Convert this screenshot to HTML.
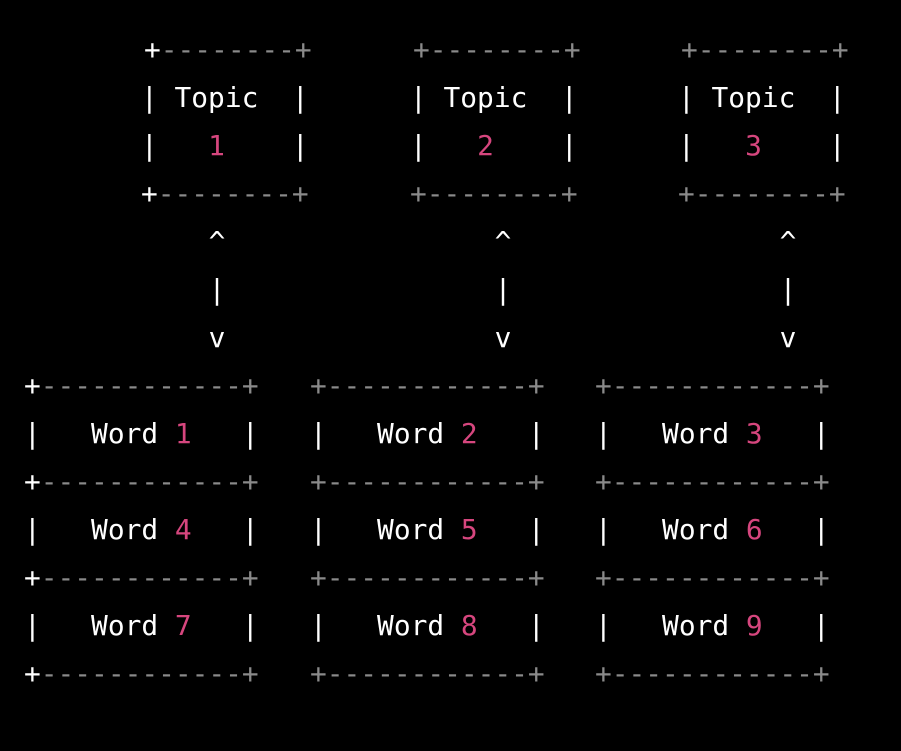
<!DOCTYPE html>
<html><head><style>
html,body{margin:0;padding:0;background:#000;width:901px;height:751px;overflow:hidden}
.l{position:absolute;font-family:"DejaVu Sans Mono","Liberation Mono",monospace;font-size:27.85px;line-height:48px;height:48px;white-space:pre;color:#fff}
.g{color:#8a8a8a}.p{color:#d6467e}
</style></head><body>
<!-- Topic 1 -->
<div class="l" style="left:144px;top:26px">+<span class="g">--------+</span></div>
<div class="l" style="left:141px;top:74px">| Topic  |</div>
<div class="l" style="left:141px;top:122px">|   <span class="p">1</span>    |</div>
<div class="l" style="left:141px;top:170px">+<span class="g">--------+</span></div>
<!-- Topic 2 -->
<div class="l g" style="left:413px;top:26px">+--------+</div>
<div class="l" style="left:410px;top:74px">| Topic  |</div>
<div class="l" style="left:410px;top:122px">|   <span class="p">2</span>    |</div>
<div class="l g" style="left:410px;top:170px">+--------+</div>
<!-- Topic 3 -->
<div class="l g" style="left:681px;top:26px">+--------+</div>
<div class="l" style="left:678px;top:74px">| Topic  |</div>
<div class="l" style="left:678px;top:122px">|   <span class="p">3</span>    |</div>
<div class="l g" style="left:678px;top:170px">+--------+</div>
<!-- arrows -->
<div class="l" style="left:208.6px;top:218px">^<br>|<br>v</div>
<div class="l" style="left:494.6px;top:218px">^<br>|<br>v</div>
<div class="l" style="left:779.6px;top:218px">^<br>|<br>v</div>
<!-- Word boxes -->
<div class="l" style="left:24px;top:362px;height:336px">+<span class="g">------------+</span>
|   Word <span class="p">1</span>   |
+<span class="g">------------+</span>
|   Word <span class="p">4</span>   |
+<span class="g">------------+</span>
|   Word <span class="p">7</span>   |
+<span class="g">------------+</span></div>
<div class="l" style="left:310px;top:362px;height:336px"><span class="g">+------------+</span>
|   Word <span class="p">2</span>   |
<span class="g">+------------+</span>
|   Word <span class="p">5</span>   |
<span class="g">+------------+</span>
|   Word <span class="p">8</span>   |
<span class="g">+------------+</span></div>
<div class="l" style="left:595px;top:362px;height:336px"><span class="g">+------------+</span>
|   Word <span class="p">3</span>   |
<span class="g">+------------+</span>
|   Word <span class="p">6</span>   |
<span class="g">+------------+</span>
|   Word <span class="p">9</span>   |
<span class="g">+------------+</span></div>
</body></html>
